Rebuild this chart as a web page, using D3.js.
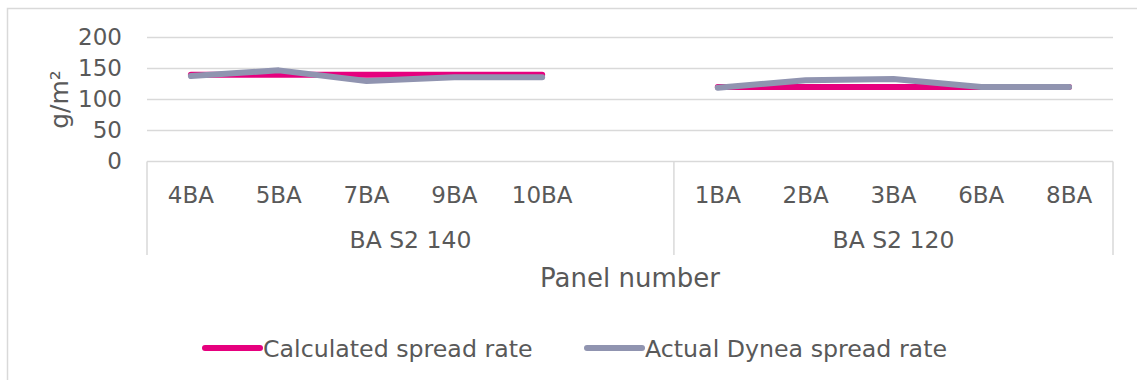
<!DOCTYPE html>
<html>
<head>
<meta charset="utf-8">
<script src="https://cdn.jsdelivr.net/npm/d3@7"></script>
<style>
    body { margin: 0; background: #fff; }
    text { font-family: "DejaVu Sans", Verdana, sans-serif; fill: #595959; }
</style>
</head>
<body>
<div id="chart"></div>
<script>
const groupNames = ["BA S2 140", "BA S2 120"];
const panels140 = ["4BA", "5BA", "7BA", "9BA", "10BA"];
const panels120 = ["1BA", "2BA", "3BA", "6BA", "8BA"];
const calculated140 = [140, 140, 140, 140, 140];
const calculated120 = [120, 120, 120, 120, 120];
const actual140 = [138, 147, 130, 136, 136];
const actual120 = [119, 131, 133, 120, 120];
const yTicks = [0, 50, 100, 150, 200];
const seriesNames = ["Calculated spread rate", "Actual Dynea spread rate"];
const seriesColors = ["#e6007e", "#9094b0"];

const width = 1137, height = 380;
const plot = { left: 147, right: 1113, top: 37.5, bottom: 161.5 };

// the first group carries one blank slot, as in the source sheet
const slots = [
    ...panels140.map(p => ({ key: "g0-" + p, label: p, group: 0 })),
    { key: "g0-blank", label: "", group: 0 },
    ...panels120.map(p => ({ key: "g1-" + p, label: p, group: 1 }))
];

const x = d3.scaleBand()
    .domain(slots.map(s => s.key))
    .range([plot.left, plot.right])
    .paddingInner(0).paddingOuter(0);

const y = d3.scaleLinear()
    .domain([0, 200])
    .range([plot.bottom, plot.top]);

const svg = d3.select("#chart").append("svg")
    .attr("width", width)
    .attr("height", height);

// chart frame
svg.append("rect")
    .attr("x", 7.5).attr("y", 8.5)
    .attr("width", 1300).attr("height", 600)
    .attr("fill", "none")
    .attr("stroke", "#d9d9d9")
    .attr("stroke-width", 1.5);

// grid
svg.append("g")
    .selectAll("line")
    .data(yTicks.filter(d => d > 0))
    .join("line")
    .attr("x1", plot.left).attr("x2", plot.right)
    .attr("y1", d => y(d)).attr("y2", d => y(d))
    .attr("stroke", "#d9d9d9")
    .attr("stroke-width", 1.5);

// y axis labels
const yAxis = svg.append("g")
    .attr("transform", `translate(${plot.left},0)`)
    .call(d3.axisLeft(y).tickValues(yTicks).tickSize(0).tickPadding(25));
yAxis.select(".domain").remove();
yAxis.selectAll("text")
    .attr("font-size", 23)
    .attr("font-family", null)
    .attr("fill", null);

svg.append("text")
    .attr("transform", `translate(68,${(plot.top + plot.bottom) / 2}) rotate(-90)`)
    .attr("text-anchor", "middle")
    .attr("font-size", 25)
    .text("g/m²");

// category axis box
const boxBottom = 255;
const groupEdges = [plot.left, x("g1-" + panels120[0]), plot.right];
svg.append("line")
    .attr("x1", plot.left).attr("x2", plot.right)
    .attr("y1", plot.bottom).attr("y2", plot.bottom)
    .attr("stroke", "#d9d9d9").attr("stroke-width", 1.5);
svg.append("g")
    .selectAll("line")
    .data(groupEdges)
    .join("line")
    .attr("x1", d => d).attr("x2", d => d)
    .attr("y1", plot.bottom).attr("y2", boxBottom)
    .attr("stroke", "#d9d9d9").attr("stroke-width", 1.5);

svg.append("g")
    .selectAll("text")
    .data(slots.filter(s => s.label))
    .join("text")
    .attr("x", d => x(d.key) + x.bandwidth() / 2)
    .attr("y", 203)
    .attr("text-anchor", "middle")
    .attr("font-size", 23)
    .text(d => d.label);

svg.append("g")
    .selectAll("text")
    .data(groupNames)
    .join("text")
    .attr("x", (d, i) => (groupEdges[i] + groupEdges[i + 1]) / 2)
    .attr("y", 248)
    .attr("text-anchor", "middle")
    .attr("font-size", 23.5)
    .text(d => d);

svg.append("text")
    .attr("x", (plot.left + plot.right) / 2)
    .attr("y", 287)
    .attr("text-anchor", "middle")
    .attr("font-size", 26)
    .text("Panel number");

// series
const line = d3.line()
    .x(d => x(d.key) + x.bandwidth() / 2)
    .y(d => y(d.value));

const series = [
    [calculated140, calculated120],
    [actual140, actual120]
];

series.forEach((parts, si) => {
    parts.forEach((values, gi) => {
        const names = gi === 0 ? panels140 : panels120;
        const pts = values.map((v, i) => ({ key: `g${gi}-${names[i]}`, value: v }));
        svg.append("path")
            .datum(pts)
            .attr("d", line)
            .attr("fill", "none")
            .attr("stroke", seriesColors[si])
            .attr("stroke-width", 6)
            .attr("stroke-linecap", "round")
            .attr("stroke-linejoin", "round");
    });
});

// legend
const legendX = [205, 587];
const legend = svg.append("g")
    .selectAll("g")
    .data(seriesNames)
    .join("g")
    .attr("transform", (d, i) => `translate(${legendX[i]},348)`);
legend.append("line")
    .attr("x1", 0).attr("x2", 55)
    .attr("stroke", (d, i) => seriesColors[i])
    .attr("stroke-width", 6)
    .attr("stroke-linecap", "round");
legend.append("text")
    .attr("x", 58)
    .attr("y", 9)
    .attr("font-size", 23.7)
    .text(d => d);
</script>
</body>
</html>
